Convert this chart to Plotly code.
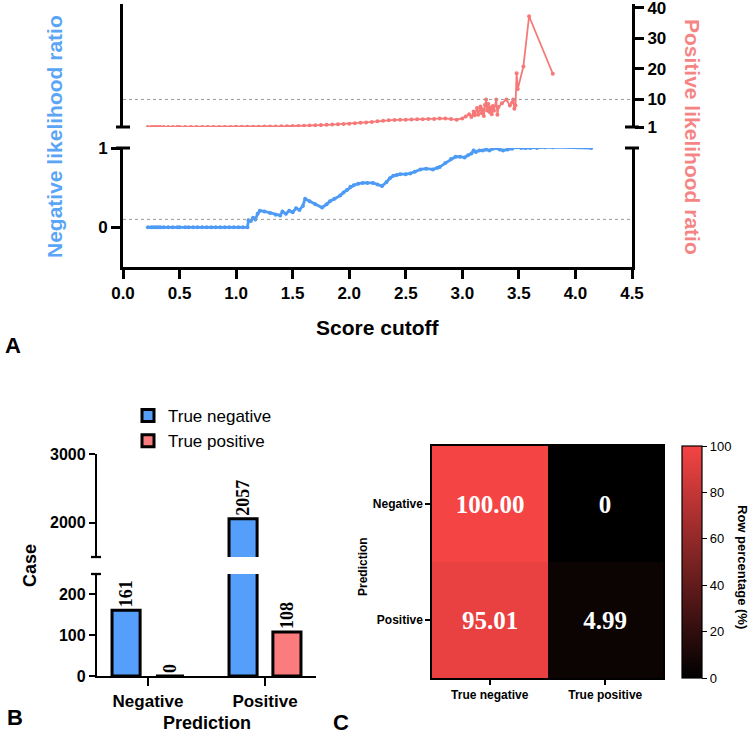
import plotly.graph_objects as go

# ---------------- Panel A data ----------------
nlr_cutoff = [0.22, 0.25, 0.27, 0.29, 0.31, 0.33, 0.36, 0.40, 0.44, 0.48, 0.50, 0.55, 0.58, 0.62,
              0.66, 0.70, 0.74, 0.78, 0.82, 0.86, 0.90, 0.94, 0.98, 1.02, 1.06, 1.10,
              1.11, 1.13, 1.15, 1.17, 1.19, 1.21, 1.25, 1.30, 1.35, 1.39, 1.41, 1.44, 1.47, 1.50,
              1.53, 1.56, 1.59, 1.61, 1.65, 1.70, 1.76, 1.80, 1.83, 1.87, 1.92, 1.95, 1.98, 2.01,
              2.04, 2.08, 2.12, 2.16, 2.21, 2.25, 2.29, 2.33, 2.36, 2.39, 2.42, 2.45, 2.50, 2.54,
              2.58, 2.63, 2.68, 2.74, 2.78, 2.80, 2.85, 2.90, 2.94, 2.98, 3.02, 3.05, 3.08, 3.10,
              3.12, 3.15, 3.18, 3.21, 3.24, 3.27, 3.30, 3.33, 3.36, 3.40, 3.44, 3.48, 3.52, 3.56,
              3.60, 3.66, 3.73, 3.80, 4.14]
nlr_value = [0, 0, 0, 0, 0, 0, 0, 0, 0, 0, 0, 0, 0, 0,
             0, 0, 0, 0, 0, 0, 0, 0, 0, 0, 0, 0,
             0.09, 0.08, 0.12, 0.10, 0.17, 0.21, 0.20, 0.18, 0.16, 0.15, 0.20, 0.17, 0.21, 0.19,
             0.24, 0.22, 0.27, 0.36, 0.33, 0.29, 0.25, 0.29, 0.33, 0.36, 0.40, 0.44, 0.47, 0.51,
             0.53, 0.55, 0.56, 0.56, 0.56, 0.54, 0.52, 0.57, 0.62, 0.65, 0.66, 0.67, 0.67, 0.68,
             0.70, 0.73, 0.74, 0.73, 0.75, 0.76, 0.81, 0.86, 0.89, 0.89, 0.88, 0.91, 0.93, 0.97,
             0.95, 0.97, 0.97, 0.98, 0.97, 0.99, 1.00, 0.98, 0.97, 0.98, 0.99, 1.01, 1.00, 1.00,
             1.00, 1.00, 1.01, 1.01, 1.00]

plr_cutoff = [0.22, 0.25, 0.27, 0.29, 0.31, 0.33, 0.36, 0.40, 0.44, 0.48, 0.50, 0.55, 0.60, 0.65,
              0.70, 0.75, 0.80, 0.85, 0.90, 0.95, 1.00, 1.05, 1.10, 1.15, 1.20, 1.25, 1.30, 1.35,
              1.40, 1.45, 1.50, 1.55, 1.60, 1.65, 1.70, 1.75, 1.80, 1.85, 1.90, 1.95, 2.00, 2.05,
              2.10, 2.15, 2.20, 2.25, 2.30, 2.35, 2.40, 2.45, 2.50, 2.55, 2.60, 2.65, 2.70, 2.75,
              2.80, 2.85, 2.90, 2.95, 3.00, 3.03, 3.06, 3.08, 3.10, 3.11, 3.13, 3.14, 3.16, 3.17,
              3.18, 3.19, 3.20, 3.21, 3.22, 3.23, 3.24, 3.25, 3.26, 3.27, 3.28, 3.30, 3.31, 3.32,
              3.35, 3.39, 3.42, 3.44, 3.45, 3.46, 3.47, 3.48, 3.49, 3.54, 3.59, 3.80]
plr_value = [1.0, 1.0, 1.0, 1.0, 1.0, 1.0, 1.0, 1.0, 1.0, 1.0, 1.0, 1.0, 1.0, 1.0,
             1.01, 1.01, 1.02, 1.02, 1.03, 1.04, 1.05, 1.06, 1.08, 1.10, 1.12, 1.14, 1.17, 1.2,
             1.23, 1.27, 1.3, 1.35, 1.4, 1.47, 1.55, 1.62, 1.7, 1.8, 1.9, 2.0, 2.1, 2.2,
             2.35, 2.5, 2.65, 2.85, 3.05, 3.2, 3.3, 3.35, 3.4, 3.45, 3.5, 3.55, 3.6, 3.65,
             3.75, 3.8, 3.6, 3.4, 3.8, 4.4, 5.2, 4.3, 6.1, 4.8, 7.2, 5.0, 7.7, 5.5,
             6.8, 4.6, 8.2, 10.0, 6.4, 8.5, 5.9, 7.4, 5.2, 7.9, 6.3, 10.0, 5.0, 7.5,
             8.8, 10.0, 8.0, 9.0, 10.0, 7.0, 8.0, 18.6, 13.4, 20.8, 37.2, 18.4]

plr_reference = 10
nlr_reference = 0.1
x_ticks_a = [0.0, 0.5, 1.0, 1.5, 2.0, 2.5, 3.0, 3.5, 4.0, 4.5]
nlr_ticks = [0, 1]
plr_ticks = [1, 10, 20, 30, 40]

# ---------------- Panel B data ----------------
pred_categories = ["Negative", "Positive"]
series_names = ["True negative", "True positive"]
true_negative_counts = [161, 2057]
true_positive_counts = [0, 108]
lower_ticks_b = [0, 100, 200]
upper_ticks_b = [2000, 3000]
lower_range_b = [0, 250]
upper_range_b = [1500, 3000]

# ---------------- Panel C data ----------------
heat_cols = ["True negative", "True positive"]
heat_rows = ["Negative", "Positive"]
row_pct = [[100.00, 0], [95.01, 4.99]]
row_pct_text = [["100.00", "0"], ["95.01", "4.99"]]
cbar_ticks = [0, 20, 40, 60, 80, 100]

# ---------------- styling ----------------
W, H = 750, 737
SANS = "Liberation Sans, Arial"
SERIF = "Liberation Serif, Times New Roman"
BLUE = "#4D9BF5"
RED = "#F67878"
BLUE_T = "#5AA5F5"
RED_T = "#F58585"
BAR_BLUE = "#559FFA"
BAR_RED = "#FB7C7C"


def px(p):
    return p / W


def py(p):
    return 1 - p / H


fig = go.Figure()

# Panel A traces
fig.add_trace(go.Scatter(x=plr_cutoff, y=plr_value, mode="lines+markers", xaxis="x", yaxis="y2",
                         line=dict(color=RED, width=1.8), marker=dict(color=RED, size=4),
                         showlegend=False))
fig.add_trace(go.Scatter(x=nlr_cutoff, y=nlr_value, mode="lines+markers", xaxis="x", yaxis="y",
                         line=dict(color=BLUE, width=2.8), marker=dict(color=BLUE, size=4),
                         showlegend=False))

# Panel B traces (lower and upper segments of the broken axis)
colors_b = [BAR_BLUE, BAR_RED]
for name, vals, col in zip(series_names, [true_negative_counts, true_positive_counts], colors_b):
    lower_text = [str(v) if v < lower_range_b[1] else "" for v in vals]
    upper_text = [str(v) if v > upper_range_b[0] else "" for v in vals]
    fig.add_trace(go.Bar(x=pred_categories, y=vals, name=name, xaxis="x2", yaxis="y3",
                         marker=dict(color=col, line=dict(color="black", width=3)),
                         text=lower_text, textposition="outside", textangle=-90,
                         constraintext="none", cliponaxis=False,
                         textfont=dict(family=SERIF, size=18, color="black", weight="bold"),
                         legendgroup=name, showlegend=True))
    fig.add_trace(go.Bar(x=pred_categories, y=vals, name=name, xaxis="x2", yaxis="y4",
                         marker=dict(color=col, line=dict(color="black", width=3)),
                         text=upper_text, textposition="outside", textangle=-90,
                         constraintext="none",
                         textfont=dict(family=SERIF, size=18, color="black", weight="bold"),
                         legendgroup=name, showlegend=False))

# Panel C heatmap
fig.add_trace(go.Heatmap(z=row_pct, x=heat_cols, y=heat_rows, text=row_pct_text,
                         texttemplate="%{text}", xaxis="x3", yaxis="y5",
                         textfont=dict(family=SERIF, size=25, color="white", weight="bold"),
                         colorscale=[[0, "#000000"], [1, "#F54444"]], zmin=0, zmax=100,
                         colorbar=dict(x=px(682), xanchor="left", thickness=20, thicknessmode="pixels",
                                       len=(678 - 446) / H, lenmode="fraction", y=py(678), yanchor="bottom",
                                       ypad=0, xpad=0, outlinewidth=1.2, outlinecolor="black",
                                       tickvals=cbar_ticks, ticks="outside", ticklen=5, tickwidth=1.2,
                                       tickcolor="black", tickfont=dict(family=SANS, size=13, color="black")),
                         showscale=True))

axA = dict(showgrid=False, zeroline=False, showline=True, linecolor="black", linewidth=3,
           ticks="outside", tickwidth=3, tickcolor="black", ticklabeloverflow="allow",
           tickfont=dict(family=SANS, size=17, color="black", weight="bold"))
axB = dict(showgrid=False, zeroline=False, showline=True, linecolor="black", linewidth=2.3,
           ticks="outside", tickwidth=2.3, tickcolor="black", ticklabeloverflow="allow",
           tickfont=dict(family=SANS, size=16, color="black", weight="bold"))
axC = dict(showgrid=False, zeroline=False, showline=True, linecolor="black", linewidth=1.5,
           mirror=True, ticks="outside", tickwidth=1.5, ticklen=5, tickcolor="black",
           ticklabeloverflow="allow",
           tickfont=dict(family=SANS, size=12, color="black", weight="bold"))

fig.update_layout(
    width=W, height=H, margin=dict(l=0, r=0, t=0, b=0, autoexpand=False),
    paper_bgcolor="white", plot_bgcolor="white",
    font=dict(family=SANS, color="black"),
    xaxis=dict(axA, domain=[px(123), px(632)], range=[0, 4.5], anchor="y",
               tickvals=x_ticks_a, tickformat=".1f", ticklen=9),
    yaxis=dict(axA, domain=[py(267), py(148)], range=[-0.5, 1], anchor="x",
               tickvals=nlr_ticks, ticklen=9, mirror=True),
    yaxis2=dict(axA, domain=[py(127), py(4)], range=[1, 41.2], anchor="x", side="right",
                tickvals=plr_ticks, ticklen=9, mirror=True),
    xaxis2=dict(axB, domain=[px(97), px(316)], range=[-0.436, 1.436], anchor="y3",
                type="category", ticklen=8, tickfont=dict(family=SANS, size=17, color="black", weight="bold")),
    yaxis3=dict(axB, domain=[py(676), py(574)], range=lower_range_b, anchor="x2",
                tickvals=lower_ticks_b, ticklen=6),
    yaxis4=dict(axB, domain=[py(557), py(454)], range=upper_range_b, anchor="x2",
                tickvals=upper_ticks_b, ticklen=6),
    xaxis3=dict(axC, domain=[px(432), px(663)], anchor="y5"),
    yaxis5=dict(axC, domain=[py(678), py(446)], anchor="x3", autorange="reversed"),
    barmode="group", bargap=0.25, bargroupgap=0.36,
    legend=dict(x=px(128), y=py(398), xanchor="left", yanchor="top", bgcolor="rgba(0,0,0,0)",
                font=dict(family=SANS, size=17, color="black"), tracegroupgap=0,
                itemwidth=30),
)

annotations = [
    dict(text="Negative likelihood ratio", x=px(55), y=py(137), textangle=-90,
         font=dict(family=SANS, size=21, color=BLUE_T, weight="bold")),
    dict(text="Positive likelihood ratio", x=px(692), y=py(137), textangle=90,
         font=dict(family=SANS, size=21, color=RED_T, weight="bold")),
    dict(text="Score cutoff", x=px(378), y=py(327),
         font=dict(family=SANS, size=21, color="black", weight="bold")),
    dict(text="A", x=px(13), y=py(345), font=dict(family=SANS, size=22, color="black", weight="bold")),
    dict(text="Case", x=px(30), y=py(566), textangle=-90,
         font=dict(family=SANS, size=18, color="black", weight="bold")),
    dict(text="Prediction", x=px(207), y=py(723),
         font=dict(family=SANS, size=18, color="black", weight="bold")),
    dict(text="B", x=px(15), y=py(717), font=dict(family=SANS, size=22, color="black", weight="bold")),
    dict(text="C", x=px(341), y=py(722), font=dict(family=SANS, size=22, color="black", weight="bold")),
    dict(text="Prediction", x=px(363), y=py(567), textangle=-90,
         font=dict(family=SANS, size=12, color="black", weight="bold")),
    dict(text="Row percentage (%)", x=px(743), y=py(567), textangle=90,
         font=dict(family=SANS, size=13, color="black", weight="bold")),
]
for a in annotations:
    a.update(xref="paper", yref="paper", showarrow=False, xanchor="center", yanchor="middle")
fig.update_layout(annotations=annotations)

shapes = [
    # reference lines
    dict(type="line", xref="x domain", x0=0, x1=1, yref="y2", y0=plr_reference, y1=plr_reference,
         line=dict(color="#9A9A9A", width=1, dash="dot")),
    dict(type="line", xref="x domain", x0=0, x1=1, yref="y", y0=nlr_reference, y1=nlr_reference,
         line=dict(color="#9A9A9A", width=1, dash="dot")),
    # axis break caps, panel A
    dict(type="line", xref="paper", x0=px(116), x1=px(130), yref="y2 domain", y0=0, y1=0,
         line=dict(color="black", width=3)),
    dict(type="line", xref="paper", x0=px(116), x1=px(130), yref="y domain", y0=1, y1=1,
         line=dict(color="black", width=3)),
    dict(type="line", xref="paper", x0=px(625), x1=px(639), yref="y2 domain", y0=0, y1=0,
         line=dict(color="black", width=3)),
    dict(type="line", xref="paper", x0=px(625), x1=px(639), yref="y domain", y0=1, y1=1,
         line=dict(color="black", width=3)),
    # axis break caps, panel B
    dict(type="line", xref="paper", x0=px(91), x1=px(101), yref="y4 domain", y0=0, y1=0,
         line=dict(color="black", width=2.3)),
    dict(type="line", xref="paper", x0=px(91), x1=px(101), yref="y3 domain", y0=1, y1=1,
         line=dict(color="black", width=2.3)),
]
fig.update_layout(shapes=shapes)

fig.write_html("out.html")
